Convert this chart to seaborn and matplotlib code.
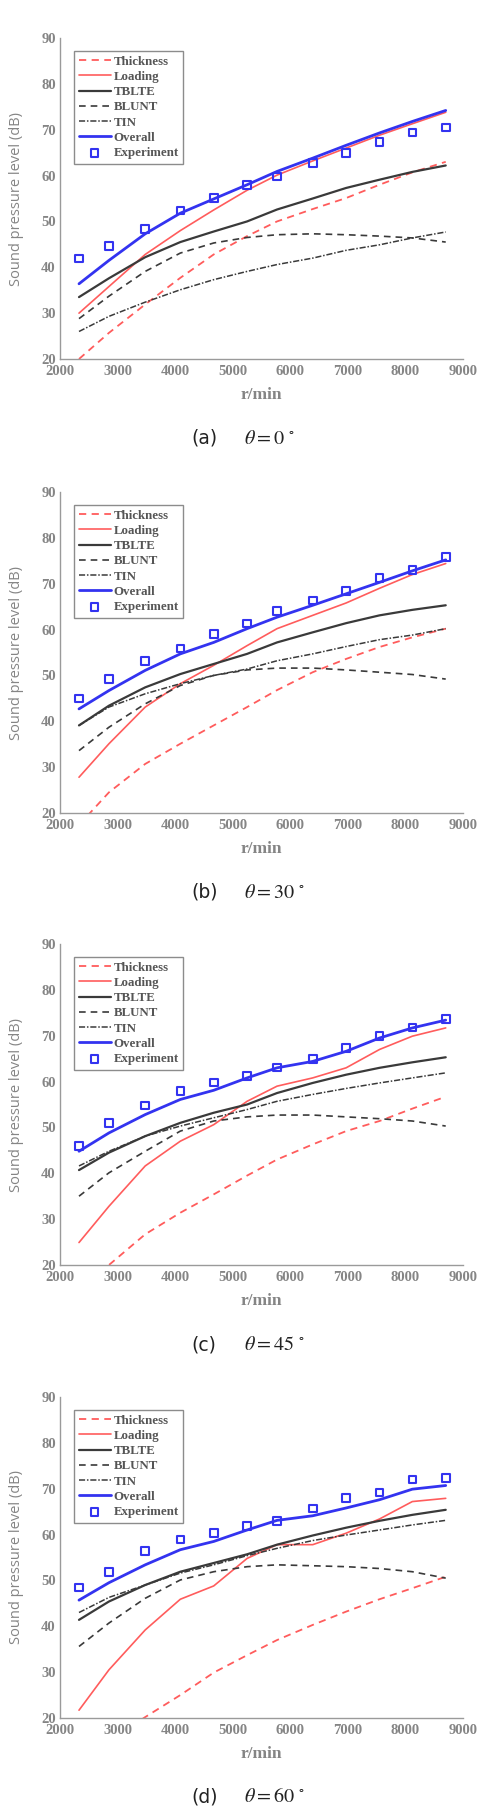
import matplotlib
matplotlib.use("Agg")
import matplotlib.pyplot as plt
import seaborn as sns

# rotor speed (r/min) at which every curve was evaluated
rpm = [2330, 2850, 3480, 4090, 4670, 5250, 5770, 6390, 6970, 7550, 8120, 8700]

# (a) theta = 0
thickness_0 = [20.0, 25.7, 31.9, 37.7, 42.8, 46.8, 50.0, 52.7, 55.1, 58.0, 60.7, 63.0]
loading_0 = [30.0, 35.8, 42.8, 48.0, 52.5, 56.8, 60.1, 63.2, 66.0, 68.8, 71.3, 73.8]
tblte_0 = [33.5, 37.6, 42.2, 45.5, 47.8, 50.0, 52.6, 55.0, 57.3, 59.1, 60.8, 62.2]
blunt_0 = [28.8, 33.7, 39.1, 43.1, 45.3, 46.5, 47.1, 47.3, 47.1, 46.8, 46.4, 45.5]
tin_0 = [26.0, 29.3, 32.4, 35.1, 37.3, 39.1, 40.6, 42.0, 43.7, 44.9, 46.4, 47.7]
overall_0 = [36.4, 41.5, 47.3, 51.8, 54.9, 58.0, 60.9, 63.8, 66.6, 69.3, 71.8, 74.2]
exp_0 = [41.9, 44.6, 48.3, 52.4, 55.1, 58.0, 59.8, 62.7, 64.9, 67.3, 69.4, 70.5]

# (b) theta = 30
thickness_30 = [17.4, 24.5, 30.7, 35.1, 39.1, 43.1, 46.8, 50.7, 53.6, 56.2, 58.3, 60.2]
loading_30 = [27.8, 35.1, 43.1, 48.2, 52.2, 56.5, 60.2, 63.1, 65.8, 69.0, 72.0, 74.4]
tblte_30 = [39.1, 43.4, 47.4, 50.3, 52.5, 54.7, 57.2, 59.4, 61.4, 63.1, 64.3, 65.3]
blunt_30 = [33.6, 38.7, 43.8, 47.8, 50.0, 51.2, 51.6, 51.6, 51.2, 50.7, 50.2, 49.2]
tin_30 = [39.1, 43.1, 46.0, 48.2, 50.0, 51.4, 53.2, 54.7, 56.3, 57.8, 58.8, 60.2]
overall_30 = [42.7, 46.7, 51.1, 54.7, 57.2, 60.2, 62.7, 65.3, 67.8, 70.3, 72.8, 75.2]
exp_30 = [45.0, 49.2, 53.2, 55.9, 59.0, 61.3, 64.0, 66.3, 68.4, 71.2, 73.0, 75.8]

# (c) theta = 45
thickness_45 = [15.0, 20.0, 26.7, 31.4, 35.4, 39.5, 43.0, 46.3, 49.2, 51.4, 54.1, 56.7]
loading_45 = [24.9, 32.8, 41.6, 47.0, 50.6, 55.7, 59.0, 60.8, 63.0, 67.0, 69.9, 71.7]
tblte_45 = [40.7, 44.5, 48.1, 51.0, 53.2, 55.0, 57.5, 59.7, 61.5, 63.0, 64.2, 65.3]
blunt_45 = [35.0, 40.1, 44.8, 49.2, 51.4, 52.3, 52.7, 52.7, 52.3, 51.9, 51.4, 50.3]
tin_45 = [41.6, 44.8, 48.1, 50.3, 52.1, 53.9, 55.7, 57.2, 58.5, 59.7, 60.8, 61.9]
overall_45 = [44.8, 48.8, 52.8, 56.1, 58.1, 60.8, 63.0, 64.4, 66.6, 69.5, 71.7, 73.4]
exp_45 = [45.9, 50.9, 54.8, 58.0, 59.8, 61.2, 63.1, 64.9, 67.3, 69.9, 71.8, 73.7]

# (d) theta = 60
thickness_60 = [10.5, 15.0, 20.2, 25.0, 29.9, 33.7, 37.0, 40.3, 43.2, 45.9, 48.3, 50.8]
loading_60 = [21.7, 30.5, 39.2, 45.9, 48.8, 54.8, 57.8, 57.8, 60.3, 63.4, 67.2, 67.9]
tblte_60 = [41.4, 45.4, 49.0, 51.9, 53.8, 55.7, 57.8, 59.8, 61.5, 63.0, 64.3, 65.4]
blunt_60 = [35.6, 40.7, 46.1, 50.1, 51.9, 53.0, 53.4, 53.2, 53.0, 52.6, 51.9, 50.5]
tin_60 = [43.0, 46.3, 49.0, 51.6, 53.4, 55.4, 57.0, 58.7, 59.9, 61.0, 62.1, 63.1]
overall_60 = [45.7, 49.5, 53.4, 56.7, 58.5, 61.0, 63.1, 64.1, 65.8, 67.6, 69.9, 70.7]
exp_60 = [48.5, 51.9, 56.4, 58.9, 60.3, 61.9, 63.0, 65.7, 68.0, 69.2, 72.0, 72.3]

panel_tags = ["(a)", "(b)", "(c)", "(d)"]
angles = [0, 30, 45, 60]
xticks = [2000, 3000, 4000, 5000, 6000, 7000, 8000, 9000]
yticks = [20, 30, 40, 50, 60, 70, 80, 90]

panels = [
    (thickness_0, loading_0, tblte_0, blunt_0, tin_0, overall_0, exp_0),
    (thickness_30, loading_30, tblte_30, blunt_30, tin_30, overall_30, exp_30),
    (thickness_45, loading_45, tblte_45, blunt_45, tin_45, overall_45, exp_45),
    (thickness_60, loading_60, tblte_60, blunt_60, tin_60, overall_60, exp_60),
]

sns.set_style("white")
plt.rcParams["mathtext.fontset"] = "stix"

W, H = 485, 1812
fig = plt.figure(figsize=(W / 100, H / 100), dpi=100)

axis_grey = "#9a9a9a"
text_grey = "#858585"
red = "#ff5c5c"
dark = "#3a3a3a"
blue = "#3333f0"

# axes top edges (px) and caption positions (px)
tops = [38, 492, 944, 1397]
caps = [438, 892, 1345, 1797]
ax_h = 321
ax_l, ax_w = 60, 403

for i, (thk, lod, tbl, blu, tin, ovr, ex) in enumerate(panels):
    ax = fig.add_axes(
        [ax_l / W, 1 - (tops[i] + ax_h) / H, ax_w / W, ax_h / H]
    )
    sns.lineplot(x=rpm, y=thk, ax=ax, color=red, linestyle=(0, (4, 3)),
                 linewidth=1.3, label="Thickness")
    sns.lineplot(x=rpm, y=lod, ax=ax, color=red, linewidth=1.2,
                 label="Loading")
    sns.lineplot(x=rpm, y=tbl, ax=ax, color=dark, linewidth=1.6,
                 label="TBLTE")
    sns.lineplot(x=rpm, y=blu, ax=ax, color=dark, linestyle=(0, (4, 3)),
                 linewidth=1.2, label="BLUNT")
    sns.lineplot(x=rpm, y=tin, ax=ax, color=dark,
                 linestyle=(0, (4, 1.2, 1, 1.2)), linewidth=1.1, label="TIN")
    sns.lineplot(x=rpm, y=ovr, ax=ax, color=blue, linewidth=2.0,
                 label="Overall")
    sns.scatterplot(x=rpm, y=ex, ax=ax, marker="s", s=30,
                    facecolor="none", edgecolor=blue, linewidth=1.5,
                    label="Experiment", zorder=5)

    ax.set_xlim(2000, 9000)
    ax.set_ylim(20, 90)
    ax.set_xticks(xticks)
    ax.set_yticks(yticks)
    sns.despine(ax=ax)
    for s in ["left", "bottom"]:
        ax.spines[s].set_color(axis_grey)
        ax.spines[s].set_linewidth(1.0)
    ax.tick_params(direction="in", length=3, width=0.8, color=axis_grey,
                   labelcolor=text_grey, labelsize=10.5, pad=3)
    ax.tick_params(axis="x", pad=4)
    for lab in ax.get_xticklabels() + ax.get_yticklabels():
        lab.set_family("Liberation Serif")
        lab.set_weight("bold")

    ax.set_xlabel("r/min", family="Liberation Serif", fontsize=12.5,
                  color=text_grey, weight="bold")
    ax.xaxis.set_label_coords(0.5, -28 / ax_h)
    ax.set_ylabel("Sound pressure level (dB)", family="Open Sans",
                  fontsize=10.5, color=text_grey)
    ax.yaxis.set_label_coords(-36 / ax_w, 0.5)

    leg = ax.legend(loc="upper left", bbox_to_anchor=(14 / ax_w, 1 - 13 / ax_h),
                    borderaxespad=0, frameon=True, fancybox=False,
                    framealpha=1, handlelength=2.5, handletextpad=0.2,
                    labelspacing=0.25, borderpad=0.35,
                    prop={"family": "Liberation Serif", "weight": "bold",
                          "size": 9.3})
    leg.get_frame().set_edgecolor("#8c8c8c")
    leg.get_frame().set_linewidth(1.0)
    for t in leg.get_texts():
        t.set_color("#555555")

    y = 1 - caps[i] / H
    fig.text(191 / W, y, panel_tags[i], ha="left", va="center",
             family="DejaVu Sans", fontsize=13.5, color="#222222")
    fig.text(244 / W, y, r"$\theta = %d\ ^{\circ}$" % angles[i], ha="left",
             va="center", fontsize=14.5, color="#222222")

fig.savefig("out.png", dpi=100, facecolor="white")
